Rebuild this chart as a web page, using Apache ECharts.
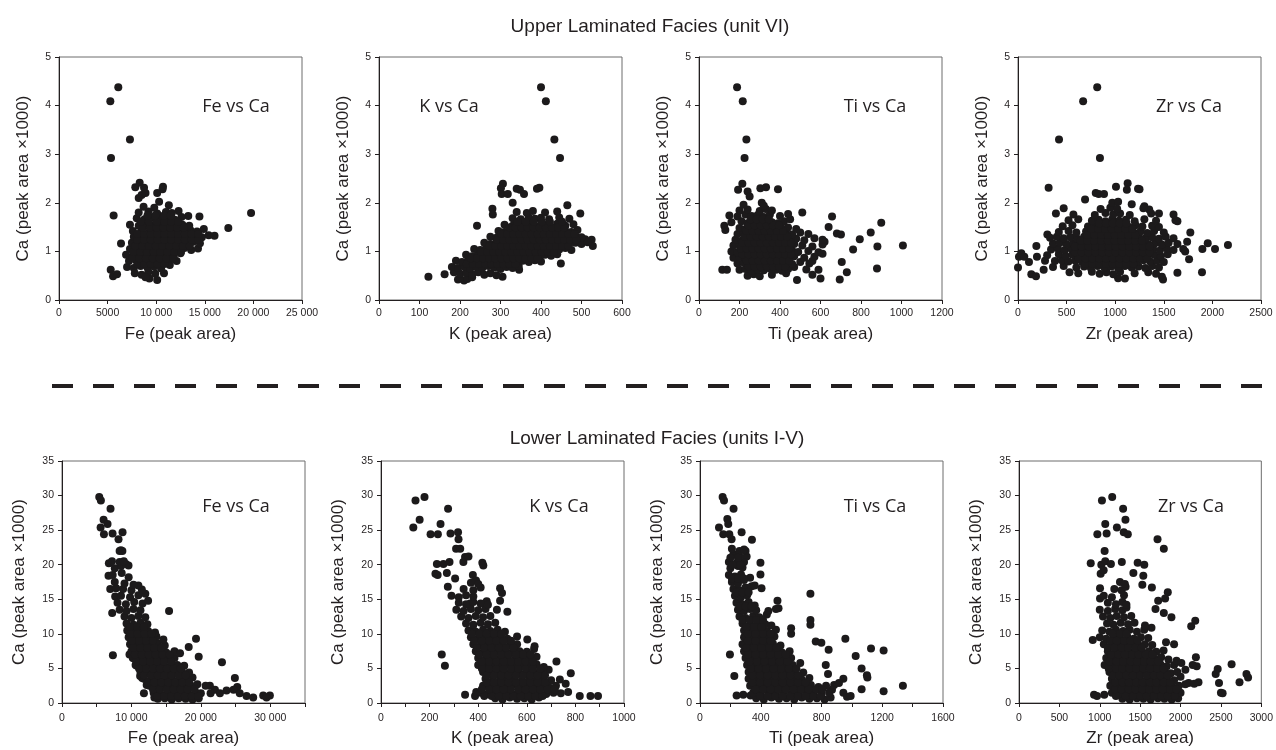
<!DOCTYPE html>
<html>
<head>
<meta charset="utf-8">
<title>Ca vs Fe, K, Ti, Zr</title>
<script src="https://cdn.jsdelivr.net/npm/echarts@6/dist/echarts.min.js"></script>
<style>
  html, body { margin: 0; padding: 0; background: #fff; }
  #chart { width: 1276px; height: 750px; }
</style>
</head>
<body>
<div id="chart"></div>
<script>
// Upper Laminated Facies (unit VI), [element peak area, Ca peak area x1000]
var upperFeCa = [
  [6100,4.38],[5280,4.09],[7300,3.30],[5350,2.92],[5620,1.74],[19760,1.79],[17420,1.48],[5320,0.62],[5560,0.49],[5970,0.53],[6380,1.16],
  [7850,2.32],[8300,2.41],[8750,2.31],[8900,2.20],[8500,2.16],[10700,2.33],[10650,2.28],[10100,2.20],[11300,1.95],[14450,1.72],[13300,1.73],[8200,2.10],
  [9300,0.44],[10100,0.41],[10800,0.55],
  [7800,0.55],[8500,0.52],[9200,0.58],[9900,0.54],[8900,0.47],
  [7000,0.68],[7700,0.66],[8400,0.70],[9100,0.67],[9800,0.69],[10500,0.65],[11400,0.72],
  [7200,0.80],[7900,0.83],[8600,0.79],[9300,0.82],[10000,0.78],[10700,0.81],[11400,0.85],[12100,0.80],
  [6900,0.93],[7600,0.90],[8300,0.94],[9000,0.91],[9700,0.95],[10400,0.92],[11100,0.94],[11800,0.90],[12500,0.96],
  [7300,1.05],[8000,1.03],[8700,1.07],[9400,1.04],[10100,1.06],[10800,1.02],[11500,1.08],[12200,1.05],[12900,1.07],[13600,1.03],[14300,1.06],
  [7500,1.18],[8200,1.16],[8900,1.20],[9600,1.17],[10300,1.19],[11000,1.15],[11700,1.21],[12400,1.18],[13100,1.16],[13800,1.20],[14500,1.17],
  [7700,1.30],[8400,1.28],[9100,1.32],[9800,1.29],[10500,1.31],[11200,1.27],[11900,1.33],[12600,1.30],[13300,1.28],[14000,1.31],[14700,1.29],[15400,1.33],[16000,1.32],
  [7600,1.42],[8500,1.44],[9300,1.40],[10000,1.43],[10700,1.41],[11400,1.45],[12100,1.42],[12800,1.40],[13500,1.44],[14200,1.41],[14900,1.46],
  [7300,1.55],[8200,1.53],[9000,1.57],[9800,1.54],[10600,1.56],[11300,1.52],[12000,1.58],[12700,1.55],[13400,1.53],
  [8000,1.68],[8800,1.66],[9700,1.70],[10500,1.67],[11200,1.69],[11900,1.65],[12600,1.71],
  [8200,1.80],[9200,1.82],[10100,1.78],[11000,1.81],[11600,1.79],[12300,1.83],
  [8700,1.92],[9800,1.90],[10300,2.02]
];
var upperFeCaCore = [
  [8050,0.74],[8750,0.74],[9450,0.74],[10150,0.74],[10850,0.74],
  [7550,0.86],[8250,0.86],[8950,0.86],[9650,0.86],[10350,0.86],[11050,0.86],[11750,0.86],
  [7650,0.99],[8350,0.99],[9050,0.99],[9750,0.99],[10450,0.99],[11150,0.99],[11850,0.99],[12550,0.99],
  [7850,1.11],[8550,1.11],[9250,1.11],[9950,1.11],[10650,1.11],[11350,1.11],[12050,1.11],[12750,1.11],[13450,1.11],
  [8050,1.24],[8750,1.24],[9450,1.24],[10150,1.24],[10850,1.24],[11550,1.24],[12250,1.24],[12950,1.24],[13650,1.24],[14350,1.24],
  [8050,1.36],[8750,1.36],[9450,1.36],[10150,1.36],[10850,1.36],[11550,1.36],[12250,1.36],[12950,1.36],[13650,1.36],[14350,1.36],
  [8650,1.49],[9350,1.49],[10050,1.49],[10750,1.49],[11450,1.49],[12150,1.49],[12850,1.49],
  [8450,1.61],[9250,1.61],[10050,1.61],[10850,1.61],[11550,1.61],[12250,1.61],
  [9100,1.74],[9900,1.74],[10800,1.74],[11500,1.74]
];
var upperKCa = [
  [400,4.38],[412,4.09],[433,3.30],[447,2.92],[122,0.48],[162,0.53],
  [306,2.39],[301,2.30],[303,2.18],[318,2.18],[340,2.29],[348,2.27],[358,2.18],[390,2.29],[396,2.31],
  [280,1.88],[281,1.76],[242,1.53],[330,2.00],[465,1.95],[497,1.78],[525,1.24],[528,1.11],[509,1.25],[449,0.75],[346,0.62],[305,0.48],[195,0.42],[210,0.40],
  [200,0.45],[218,0.43],[230,0.47],
  [185,0.57],[200,0.54],[215,0.56],[230,0.53],[245,0.57],[260,0.52],[275,0.55],[290,0.51],
  [180,0.68],[195,0.66],[210,0.69],[225,0.65],[240,0.68],[255,0.66],[270,0.70],[285,0.67],[300,0.64],[315,0.68],[330,0.66],[345,0.70],
  [190,0.81],[205,0.78],[220,0.82],[235,0.79],[250,0.81],[265,0.77],[280,0.83],[295,0.80],[310,0.78],[325,0.82],[340,0.79],[355,0.81],[370,0.78],[385,0.82],[400,0.79],
  [215,0.93],[230,0.90],[245,0.94],[260,0.91],[275,0.93],[290,0.90],[305,0.94],[320,0.92],[335,0.89],[350,0.93],[365,0.91],[380,0.94],[395,0.90],[410,0.93],[425,0.91],[440,0.94],
  [235,1.05],[250,1.03],[265,1.07],[280,1.04],[295,1.06],[310,1.02],[325,1.06],[340,1.04],[355,1.07],[370,1.03],[385,1.05],[400,1.07],[415,1.03],[430,1.06],[445,1.04],[460,1.07],[475,1.03],
  [260,1.18],[275,1.15],[290,1.19],[305,1.16],[320,1.18],[335,1.15],[350,1.19],[365,1.16],[380,1.18],[395,1.15],[410,1.19],[425,1.17],[440,1.15],[455,1.19],[470,1.16],[485,1.18],[500,1.15],[515,1.19],
  [275,1.30],[290,1.28],[305,1.32],[320,1.29],[335,1.31],[350,1.27],[365,1.32],[380,1.29],[395,1.31],[410,1.28],[425,1.32],[440,1.29],[455,1.31],[470,1.28],[485,1.32],[500,1.29],
  [295,1.42],[310,1.40],[325,1.44],[340,1.41],[355,1.43],[370,1.40],[385,1.44],[400,1.41],[415,1.43],[430,1.40],[445,1.44],[460,1.42],[475,1.40],[490,1.44],
  [310,1.55],[330,1.53],[345,1.57],[360,1.54],[375,1.56],[390,1.52],[405,1.56],[420,1.54],[440,1.57],[460,1.53],[480,1.56],
  [330,1.68],[350,1.66],[370,1.70],[385,1.67],[400,1.69],[420,1.66],[445,1.70],[470,1.67],
  [340,1.81],[365,1.79],[380,1.83],[410,1.80],[440,1.82]
];
var upperKCaCore = [
  [217,0.74],[232,0.74],[247,0.74],[262,0.74],[277,0.74],[292,0.74],[307,0.74],[322,0.74],[337,0.74],
  [227,0.86],[242,0.86],[257,0.86],[272,0.86],[287,0.86],[302,0.86],[317,0.86],[332,0.86],[347,0.86],[362,0.86],[377,0.86],[392,0.86],
  [252,0.99],[267,0.99],[282,0.99],[297,0.99],[312,0.99],[327,0.99],[342,0.99],[357,0.99],[372,0.99],[387,0.99],[402,0.99],[417,0.99],[432,0.99],
  [272,1.11],[287,1.11],[302,1.11],[317,1.11],[332,1.11],[347,1.11],[362,1.11],[377,1.11],[392,1.11],[407,1.11],[422,1.11],[437,1.11],[452,1.11],[467,1.11],
  [292,1.24],[307,1.24],[322,1.24],[337,1.24],[352,1.24],[367,1.24],[382,1.24],[397,1.24],[412,1.24],[427,1.24],[442,1.24],[457,1.24],[472,1.24],[487,1.24],
  [302,1.36],[317,1.36],[332,1.36],[347,1.36],[362,1.36],[377,1.36],[392,1.36],[407,1.36],[422,1.36],[437,1.36],[452,1.36],[467,1.36],[482,1.36],
  [322,1.49],[337,1.49],[352,1.49],[367,1.49],[382,1.49],[397,1.49],[412,1.49],[427,1.49],[442,1.49],[457,1.49],
  [342,1.61],[362,1.61],[382,1.61],[402,1.61],[422,1.61],[452,1.61]
];
var upperTiCa = [
  [188,4.38],[216,4.09],[234,3.30],[225,2.92],[214,2.39],[193,2.27],[240,2.23],[250,2.13],[303,2.30],[331,2.32],[390,2.28],
  [657,1.72],[900,1.59],[1007,1.12],[879,0.65],[881,1.10],[794,1.25],[848,1.39],[761,1.04],[705,0.78],[730,0.57],[695,0.42],[484,0.41],
  [115,0.62],[138,0.62],[125,1.53],[130,1.44],[681,1.37],[701,1.35],[640,1.50],[620,1.20],[610,0.95],[590,0.62],[560,0.52],[600,0.44],[545,0.75],
  [240,0.50],[270,0.53],[300,0.49],[360,0.52],[430,0.55],[470,0.68],
  [200,0.62],[230,0.64],[260,0.60],[290,0.63],[320,0.61],[350,0.65],[380,0.62],[410,0.60],[440,0.64],[530,0.63],
  [190,0.75],[220,0.77],[250,0.73],[280,0.76],[310,0.74],[340,0.78],[370,0.75],[400,0.73],[430,0.77],[460,0.74],[500,0.78],[560,0.80],
  [170,0.87],[200,0.89],[230,0.85],[260,0.88],[290,0.86],[320,0.90],[350,0.87],[380,0.85],[410,0.89],[440,0.86],[470,0.90],[520,0.87],[570,0.89],
  [160,1.00],[190,0.98],[220,1.02],[250,0.99],[280,1.01],[310,0.97],[340,1.02],[370,0.99],[400,1.01],[430,0.98],[460,1.02],[490,0.99],[540,1.01],[590,0.98],
  [170,1.12],[200,1.14],[230,1.10],[260,1.13],[290,1.11],[320,1.15],[350,1.12],[380,1.10],[410,1.14],[440,1.11],[470,1.15],[510,1.12],[560,1.10],[610,1.14],
  [180,1.24],[210,1.22],[240,1.26],[270,1.23],[300,1.25],[330,1.21],[360,1.26],[390,1.23],[420,1.25],[450,1.22],[480,1.26],[520,1.23],[570,1.27],[610,1.24],
  [190,1.36],[220,1.38],[250,1.34],[280,1.37],[310,1.35],[340,1.39],[370,1.36],[400,1.34],[430,1.38],[460,1.35],[500,1.39],[540,1.36],
  [200,1.48],[230,1.46],[260,1.50],[290,1.47],[320,1.49],[350,1.45],[380,1.50],[410,1.47],[440,1.49],[480,1.46],
  [160,1.60],[210,1.62],[240,1.58],[270,1.61],[300,1.59],[330,1.63],[360,1.60],[390,1.58],[420,1.62],[450,1.66],
  [150,1.74],[190,1.72],[230,1.76],[260,1.73],[290,1.75],[320,1.71],[350,1.76],[400,1.73],[440,1.77],[510,1.80],
  [200,1.84],[240,1.86],[300,1.83],[330,1.87],[360,1.84],
  [220,1.96],[310,2.00],[320,1.94]
];
var upperTiCaCore = [
  [245,0.69],[275,0.69],[305,0.69],[335,0.69],[365,0.69],[395,0.69],[425,0.69],
  [235,0.81],[265,0.81],[295,0.81],[325,0.81],[355,0.81],[385,0.81],[415,0.81],[445,0.81],
  [215,0.94],[245,0.94],[275,0.94],[305,0.94],[335,0.94],[365,0.94],[395,0.94],[425,0.94],[455,0.94],
  [205,1.06],[235,1.06],[265,1.06],[295,1.06],[325,1.06],[355,1.06],[385,1.06],[415,1.06],[445,1.06],
  [215,1.18],[245,1.18],[275,1.18],[305,1.18],[335,1.18],[365,1.18],[395,1.18],[425,1.18],[455,1.18],
  [225,1.30],[255,1.30],[285,1.30],[315,1.30],[345,1.30],[375,1.30],[405,1.30],[435,1.30],
  [235,1.42],[265,1.42],[295,1.42],[325,1.42],[355,1.42],[385,1.42],[415,1.42],
  [245,1.54],[275,1.54],[305,1.54],[335,1.54],[365,1.54],[395,1.54],
  [255,1.66],[285,1.66],[315,1.66],[345,1.66]
];
var upperZrCa = [
  [815,4.38],[670,4.09],[422,3.30],[843,2.92],[315,2.31],[690,2.07],[800,2.20],[830,2.18],[885,2.18],[1008,2.33],[1128,2.40],[1120,2.27],[1235,2.29],[1250,2.28],
  [1773,1.39],[1897,1.05],[1952,1.17],[2027,1.05],[2160,1.13],[1893,0.57],[1640,0.56],[1492,0.42],
  [0,0.67],[10,0.89],[34,0.96],[65,0.89],[113,0.78],[137,0.53],[185,0.49],[189,1.11],[195,0.89],[264,0.62],[278,0.81],[302,1.35],
  [1740,1.20],[1760,0.84],[1720,1.00],[1600,1.76],[1640,1.62],[1450,1.78],[1300,1.93],[1350,1.86],
  [1030,0.45],[1100,0.44],[1480,0.48],
  [530,0.57],[620,0.55],[760,0.58],[840,0.54],[910,0.57],[980,0.53],[1050,0.58],[1200,0.55],[1340,0.57],[1420,0.54],
  [360,0.68],[470,0.70],[600,0.67],[680,0.69],[750,0.66],[820,0.70],[890,0.67],[960,0.69],[1030,0.66],[1100,0.70],[1170,0.67],[1240,0.69],[1310,0.66],[1380,0.70],[1450,0.67],
  [380,0.80],[450,0.82],[520,0.79],[590,0.81],[660,0.78],[730,0.82],[800,0.79],[870,0.81],[940,0.78],[1010,0.82],[1080,0.79],[1150,0.81],[1220,0.78],[1290,0.82],[1360,0.79],[1430,0.81],[1500,0.78],
  [300,0.92],[420,0.94],[490,0.91],[560,0.93],[630,0.90],[700,0.94],[770,0.91],[840,0.93],[910,0.90],[980,0.94],[1050,0.91],[1120,0.93],[1190,0.90],[1260,0.94],[1330,0.91],[1400,0.93],[1470,0.90],[1540,0.94],
  [340,1.04],[410,1.06],[480,1.03],[550,1.05],[620,1.02],[690,1.06],[760,1.03],[830,1.05],[900,1.02],[970,1.06],[1040,1.03],[1110,1.05],[1180,1.02],[1250,1.06],[1320,1.03],[1390,1.05],[1460,1.02],[1530,1.06],[1600,1.03],[1700,1.05],
  [360,1.16],[430,1.18],[500,1.15],[570,1.17],[640,1.14],[710,1.18],[780,1.15],[850,1.17],[920,1.14],[990,1.18],[1060,1.15],[1130,1.17],[1200,1.14],[1270,1.18],[1340,1.15],[1410,1.17],[1480,1.14],[1550,1.18],[1640,1.15],
  [330,1.28],[400,1.30],[470,1.27],[540,1.29],[610,1.26],[680,1.30],[750,1.27],[820,1.29],[890,1.26],[960,1.30],[1030,1.27],[1100,1.29],[1170,1.26],[1240,1.30],[1310,1.27],[1380,1.29],[1450,1.26],[1520,1.30],[1600,1.27],
  [420,1.40],[520,1.42],[600,1.39],[700,1.41],[770,1.38],[840,1.42],[910,1.39],[980,1.41],[1050,1.38],[1120,1.42],[1190,1.39],[1260,1.41],[1330,1.38],[1400,1.42],[1500,1.39],
  [460,1.52],[560,1.54],[720,1.51],[790,1.53],[860,1.50],[930,1.54],[1000,1.51],[1070,1.53],[1140,1.50],[1210,1.54],[1280,1.51],[1380,1.53],[1450,1.50],
  [520,1.64],[620,1.66],[760,1.63],[830,1.65],[900,1.62],[970,1.66],[1040,1.63],[1110,1.65],[1200,1.62],[1300,1.66],[1420,1.63],[1620,1.64],
  [390,1.78],[570,1.76],[790,1.75],[900,1.79],[980,1.76],[1050,1.78],[1150,1.75],[1370,1.78],
  [470,1.89],[850,1.87],[950,1.90],[1020,1.88],[1290,1.89],
  [970,2.00],[1030,2.02],[1170,1.97]
];
var upperZrCaCore = [
  [695,0.74],[765,0.74],[835,0.74],[905,0.74],[975,0.74],[1045,0.74],[1115,0.74],[1185,0.74],
  [625,0.86],[695,0.86],[765,0.86],[835,0.86],[905,0.86],[975,0.86],[1045,0.86],[1115,0.86],[1185,0.86],[1255,0.86],[1325,0.86],
  [585,0.98],[655,0.98],[725,0.98],[795,0.98],[865,0.98],[935,0.98],[1005,0.98],[1075,0.98],[1145,0.98],[1215,0.98],[1285,0.98],[1355,0.98],
  [585,1.10],[655,1.10],[725,1.10],[795,1.10],[865,1.10],[935,1.10],[1005,1.10],[1075,1.10],[1145,1.10],[1215,1.10],[1285,1.10],[1355,1.10],
  [645,1.22],[715,1.22],[785,1.22],[855,1.22],[925,1.22],[995,1.22],[1065,1.22],[1135,1.22],[1205,1.22],[1275,1.22],
  [715,1.34],[785,1.34],[855,1.34],[925,1.34],[995,1.34],[1065,1.34],[1135,1.34],[1205,1.34],
  [755,1.46],[825,1.46],[895,1.46],[965,1.46],[1035,1.46],[1105,1.46],[1175,1.46],
  [835,1.58],[905,1.58],[975,1.58],[1045,1.58],[1115,1.58]
];

// Lower Laminated Facies (units I-V)
var lowerFeCa = [
  [5365,29.8],[5600,29.3],[5990,26.5],[5560,25.4],[6040,24.4],[6560,25.9],[6990,28.1],[7280,24.5],[8720,24.7],[8140,23.7],[8480,22.1],
  [6750,20.2],[6700,18.4],[6950,16.5],[7230,13.0],[7330,6.9],[7800,16.6],[7660,15.4],[9580,19.9],[9720,7.0],
  [15420,13.3],[19300,9.3],[18250,8.1],[19690,6.7],[23040,5.9],[24900,3.6],[25240,2.3],[21300,2.5],
  [26580,1.0],[27540,0.8],[28980,1.1],[29940,1.1],[29460,0.8],[23700,1.8],[24700,1.9],[25600,1.4],[22030,1.9],[22750,1.4],[20690,2.5],[21400,1.4],
  [11800,1.4],[13300,0.8],[12200,2.6],[11250,3.9],[11550,3.6],[10780,5.4],[10300,6.5],
  [13800,0.6],[14800,0.7],[15800,0.5],[16800,0.7],[17800,0.6],[18800,0.5],[19700,0.7],
  [13200,1.5],[14200,1.3],[15200,1.6],[16200,1.4],[17200,1.6],[18200,1.3],[19200,1.5],[20000,1.4],
  [12600,2.5],[13600,2.3],[14600,2.6],[15600,2.4],[16600,2.6],[17600,2.3],[18600,2.5],[19500,2.7],
  [11800,3.5],[12800,3.3],[13800,3.6],[14800,3.4],[15800,3.6],[16800,3.3],[17800,3.5],[18800,3.7],
  [11300,4.5],[12300,4.3],[13300,4.6],[14300,4.4],[15300,4.6],[16300,4.3],[17300,4.5],[18300,4.4],
  [10600,5.5],[11600,5.3],[12600,5.6],[13600,5.4],[14600,5.6],[15600,5.3],[16600,5.5],[17600,5.4],
  [10200,6.5],[11200,6.3],[12200,6.6],[13200,6.4],[14200,6.6],[15200,6.3],[16200,6.5],
  [10000,7.5],[11000,7.3],[12000,7.6],[13000,7.4],[14000,7.6],[15000,7.3],[16200,7.5],[17000,7.2],
  [9800,8.5],[10800,8.3],[11800,8.6],[12800,8.4],[13800,8.6],[14800,8.3],
  [9600,9.5],[10600,9.3],[11600,9.6],[12600,9.4],[13600,9.6],[14600,9.2],
  [9400,10.5],[10400,10.3],[11400,10.6],[12400,10.4],[13400,10.2],
  [9300,11.5],[10300,11.3],[11300,11.6],[12300,11.4],
  [9000,12.5],[10000,12.3],[11000,12.6],[12000,12.4],
  [8300,13.5],[9300,13.3],[10300,13.6],[11300,13.4],
  [8000,14.5],[9200,14.3],[10400,14.6],[11600,14.4],[12400,14.8],
  [8500,15.5],[9800,15.3],[11000,15.6],[12000,15.8],
  [8800,16.5],[10000,16.3],[11500,16.4],[11000,17.0],
  [7600,17.5],[9000,17.3],[10300,17.1],
  [7300,18.5],[8600,18.8],[9600,18.2],
  [7600,19.5],[8500,19.8],[9200,20.1],
  [7200,20.5],[8300,20.4],[8900,20.5],
  [8300,22.0],[8700,22.0]
];
var lowerFeCaCore = [
  [13700,1.0],[14700,1.0],[15700,1.0],[16700,1.0],[17700,1.0],[18700,1.0],[19600,1.0],
  [13100,2.0],[14100,2.0],[15100,2.0],[16100,2.0],[17100,2.0],[18100,2.0],[19100,2.0],
  [12300,3.0],[13300,3.0],[14300,3.0],[15300,3.0],[16300,3.0],[17300,3.0],[18300,3.0],
  [11800,4.0],[12800,4.0],[13800,4.0],[14800,4.0],[15800,4.0],[16800,4.0],[17800,4.0],
  [11100,5.0],[12100,5.0],[13100,5.0],[14100,5.0],[15100,5.0],[16100,5.0],[17100,5.0],
  [10700,6.0],[11700,6.0],[12700,6.0],[13700,6.0],[14700,6.0],[15700,6.0],
  [10500,7.0],[11500,7.0],[12500,7.0],[13500,7.0],[14500,7.0],[15500,7.0],
  [10300,8.0],[11300,8.0],[12300,8.0],[13300,8.0],[14300,8.0],
  [10100,9.0],[11100,9.0],[12100,9.0],[13100,9.0],
  [9900,10.0],[10900,10.0],[11900,10.0],[12900,10.0],
  [9800,11.0],[10800,11.0],[11800,11.0]
];
var lowerKCa = [
  [142,29.3],[179,29.8],[159,26.5],[133,25.4],[204,24.4],[234,24.4],[245,25.9],[276,28.1],[286,24.5],[317,24.7],[319,23.7],[309,22.3],[326,22.3],
  [230,20.1],[257,20.1],[282,20.4],[224,18.7],[233,18.5],[271,18.8],[275,16.8],[305,18.0],[339,20.4],[346,21.1],[360,21.2],[417,20.3],[421,19.9],
  [378,18.5],[391,17.7],[490,16.6],[498,15.9],[490,14.8],[520,13.2],[477,13.5],[435,14.7],[379,10.6],[250,7.0],[263,5.4],[367,14.4],
  [602,9.2],[632,8.2],[722,6.0],[781,4.3],[736,3.4],[818,1.0],[862,1.0],[893,1.0],[387,1.0],[346,1.2],[392,1.6],
  [470,0.7],[500,0.5],[530,0.8],[560,0.6],[590,0.7],[620,0.5],[650,0.8],
  [410,1.5],[440,1.3],[470,1.6],[500,1.4],[530,1.6],[560,1.3],[590,1.5],[620,1.4],[650,1.6],[680,1.3],[710,1.5],[740,1.4],[770,1.6],
  [420,2.5],[450,2.3],[480,2.6],[510,2.4],[540,2.6],[570,2.3],[600,2.5],[630,2.4],[660,2.6],[690,2.3],[720,2.5],[760,2.8],
  [430,3.5],[460,3.3],[490,3.6],[520,3.4],[550,3.6],[580,3.3],[610,3.5],[640,3.4],[670,3.6],[700,3.3],
  [420,4.5],[450,4.3],[480,4.6],[510,4.4],[540,4.6],[570,4.3],[600,4.5],[630,4.4],[660,4.6],[690,4.8],
  [400,5.5],[430,5.3],[460,5.6],[490,5.4],[520,5.6],[550,5.3],[580,5.5],[610,5.4],[640,5.6],[670,5.2],
  [400,6.5],[430,6.3],[460,6.6],[490,6.4],[520,6.6],[550,6.3],[580,6.5],[610,6.4],[640,6.7],
  [390,7.5],[420,7.3],[450,7.6],[480,7.4],[510,7.6],[540,7.3],[570,7.5],[600,7.4],[630,7.8],
  [380,8.5],[410,8.3],[440,8.6],[470,8.4],[500,8.6],[530,8.3],[560,8.5],
  [370,9.5],[400,9.3],[430,9.6],[460,9.4],[490,9.6],[520,9.3],[560,9.6],
  [360,10.5],[390,10.3],[420,10.6],[450,10.4],[480,10.6],[510,10.3],
  [350,11.5],[380,11.3],[410,11.6],[440,11.4],[470,11.6],
  [330,12.5],[360,12.3],[390,12.6],[420,12.4],[450,12.6],
  [310,13.5],[340,13.3],[370,13.6],[400,13.4],[430,13.6],
  [320,14.5],[350,14.3],[380,14.6],[410,14.4],[440,14.2],
  [290,15.5],[320,15.3],[350,15.6],[380,15.4],
  [340,16.5],[380,16.3],[410,16.7],
  [370,17.4],[400,17.2]
];
var lowerKCaCore = [
  [425,1.0],[455,1.0],[485,1.0],[515,1.0],[545,1.0],[575,1.0],[605,1.0],[635,1.0],[665,1.0],
  [415,2.0],[445,2.0],[475,2.0],[505,2.0],[535,2.0],[565,2.0],[595,2.0],[625,2.0],[655,2.0],[685,2.0],[715,2.0],
  [435,3.0],[465,3.0],[495,3.0],[525,3.0],[555,3.0],[585,3.0],[615,3.0],[645,3.0],[675,3.0],
  [435,4.0],[465,4.0],[495,4.0],[525,4.0],[555,4.0],[585,4.0],[615,4.0],[645,4.0],[675,4.0],
  [415,5.0],[445,5.0],[475,5.0],[505,5.0],[535,5.0],[565,5.0],[595,5.0],[625,5.0],[655,5.0],
  [415,6.0],[445,6.0],[475,6.0],[505,6.0],[535,6.0],[565,6.0],[595,6.0],[625,6.0],
  [405,7.0],[435,7.0],[465,7.0],[495,7.0],[525,7.0],[555,7.0],[585,7.0],[615,7.0],
  [395,8.0],[425,8.0],[455,8.0],[485,8.0],[515,8.0],[545,8.0],
  [385,9.0],[415,9.0],[445,9.0],[475,9.0],[505,9.0],[535,9.0],
  [375,10.0],[405,10.0],[435,10.0],[465,10.0],[495,10.0]
];
var lowerTiCa = [
  [149,29.8],[158,29.3],[125,25.4],[180,26.6],[186,25.9],[153,24.4],[193,24.4],[221,28.1],[274,24.7],[208,23.7],[307,21.2],[342,23.6],
  [197,7.0],[226,3.9],[241,1.1],[285,1.2],[333,1.1],
  [727,15.8],[727,12.0],[727,11.3],[762,8.9],[799,8.7],[847,7.7],[957,9.3],[1025,6.8],[1126,7.9],[1209,7.6],[1064,5.0],[1099,4.0],[1102,3.7],
  [1064,2.0],[1209,1.7],[1336,2.5],[944,3.5],[944,1.5],[968,0.9],[992,1.0],[828,5.5],[843,4.2],[883,2.6],[869,1.9],[915,2.9],
  [510,14.8],[517,13.7],[398,20.3],[398,18.6],[405,16.6],
  [370,0.7],[420,0.5],[470,0.8],[520,0.6],[570,0.7],[620,0.5],[670,0.8],[720,0.6],[770,0.7],[820,0.5],[860,0.8],
  [350,1.5],[400,1.3],[450,1.6],[500,1.4],[550,1.6],[600,1.3],[650,1.5],[700,1.4],[750,1.6],[800,1.3],[850,1.5],
  [330,2.5],[380,2.3],[430,2.6],[480,2.4],[530,2.6],[580,2.3],[630,2.5],[680,2.4],[730,2.6],[780,2.3],[830,2.5],
  [320,3.5],[370,3.3],[420,3.6],[470,3.4],[520,3.6],[570,3.3],[620,3.5],[670,3.4],[720,3.6],
  [320,4.5],[370,4.3],[420,4.6],[470,4.4],[520,4.6],[570,4.3],[620,4.5],[680,4.4],
  [310,5.5],[360,5.3],[410,5.6],[460,5.4],[510,5.6],[560,5.3],[610,5.5],[660,5.8],
  [300,6.5],[350,6.3],[400,6.6],[450,6.4],[500,6.6],[550,6.3],[600,6.5],
  [290,7.5],[340,7.3],[390,7.6],[440,7.4],[490,7.6],[540,7.3],[590,7.5],
  [280,8.5],[330,8.3],[380,8.6],[430,8.4],[480,8.6],[530,8.3],
  [290,9.5],[340,9.3],[390,9.6],[440,9.4],[490,9.6],[600,10.0],
  [290,10.5],[340,10.3],[390,10.6],[440,10.4],[500,10.6],[600,10.8],
  [280,11.5],[330,11.3],[380,11.6],[430,11.4],[470,11.2],
  [260,12.5],[300,12.3],[350,12.6],[390,12.4],[440,12.8],
  [250,13.5],[290,13.3],[330,13.6],[370,13.4],[450,13.3],[500,13.6],
  [240,14.5],[280,14.3],[320,14.6],[360,14.1],
  [230,15.5],[270,15.3],[310,15.6],
  [220,16.5],[260,16.3],[300,16.7],[340,16.9],[360,17.0],
  [210,17.5],[250,17.3],[290,17.8],
  [190,18.5],[230,18.3],[270,18.6],[330,18.1],
  [200,19.5],[250,19.8],[280,19.6],
  [190,20.4],[240,20.2],[290,20.4],
  [220,21.5],[260,21.2],[300,22.0],
  [210,22.3],[260,22.0],[290,22.2]
];
var lowerTiCaCore = [
  [395,1.0],[445,1.0],[495,1.0],[545,1.0],[595,1.0],[645,1.0],[695,1.0],[745,1.0],[795,1.0],
  [365,2.0],[415,2.0],[465,2.0],[515,2.0],[565,2.0],[615,2.0],[665,2.0],[715,2.0],[765,2.0],[805,2.0],
  [345,3.0],[395,3.0],[445,3.0],[495,3.0],[545,3.0],[595,3.0],[645,3.0],[695,3.0],
  [345,4.0],[395,4.0],[445,4.0],[495,4.0],[545,4.0],[595,4.0],[645,4.0],
  [335,5.0],[385,5.0],[435,5.0],[485,5.0],[535,5.0],[585,5.0],[635,5.0],
  [325,6.0],[375,6.0],[425,6.0],[475,6.0],[525,6.0],[575,6.0],
  [315,7.0],[365,7.0],[415,7.0],[465,7.0],[515,7.0],[565,7.0],
  [305,8.0],[355,8.0],[405,8.0],[455,8.0],[505,8.0],
  [315,9.0],[365,9.0],[415,9.0],[465,9.0],
  [315,10.0],[365,10.0],[415,10.0],[465,10.0],
  [305,11.0],[355,11.0],[405,11.0],
  [280,12.0],[325,12.0],[370,12.0],[415,12.0],
  [260,14.0],[300,14.0],[340,14.0],
  [240,16.0],[280,16.0],[320,16.0],
  [210,18.0],[250,18.0],[290,18.0],
  [215,20.0],[265,20.0],
  [200,21.0],[250,21.0]
];
var lowerZrCa = [
  [1027,29.3],[1154,29.8],[1289,28.1],[1318,26.5],[1068,25.9],[1212,25.4],[970,24.4],[1085,24.5],[1297,24.7],[1347,24.4],[1715,23.7],[1793,22.3],[1060,22.0],
  [888,20.2],[1019,20.0],[1068,20.5],[1138,20.1],[1469,20.3],[1551,20.0],[1273,20.4],[1011,18.7],[1048,19.2],[1416,18.8],[1539,18.4],[1527,17.1],
  [1645,16.7],[1842,16.0],[1809,15.1],[1723,14.8],[1690,13.6],[1793,13.0],[1887,12.4],[2182,11.9],[2132,11.1],[1003,16.6],[1003,15.1],[913,9.1],
  [929,1.2],[966,1.0],[1056,1.2],[2632,5.6],[2730,3.0],[2816,4.2],[2836,3.7],[2500,1.5],[2521,1.4],[2476,2.9],[2460,4.9],[2435,4.2],[2190,6.6],[2100,2.9],[2222,3.0],
  [1280,0.6],[1370,0.5],[1460,0.7],[1540,0.6],[1630,0.5],[1720,0.7],[1800,0.6],[1890,0.5],[1970,0.7],
  [1150,1.5],[1230,1.3],[1320,1.6],[1400,1.4],[1490,1.6],[1570,1.3],[1660,1.5],[1740,1.4],[1830,1.6],[1910,1.3],[2000,1.5],
  [1130,2.5],[1220,2.3],[1300,2.6],[1390,2.4],[1470,2.6],[1560,2.3],[1640,2.5],[1730,2.4],[1810,2.6],[1900,2.3],[1980,2.5],[2060,2.7],[2170,2.8],
  [1150,3.5],[1240,3.3],[1320,3.6],[1410,3.4],[1490,3.6],[1580,3.3],[1660,3.5],[1750,3.4],[1830,3.6],[1920,3.3],[2000,3.8],
  [1120,4.5],[1200,4.3],[1290,4.6],[1370,4.4],[1460,4.6],[1540,4.3],[1630,4.5],[1710,4.4],[1800,4.6],[1880,4.3],[1960,4.5],[2060,4.8],[2200,5.3],
  [1060,5.5],[1150,5.3],[1240,5.6],[1320,5.4],[1410,5.6],[1490,5.3],[1580,5.5],[1660,5.4],[1750,5.6],[1830,5.3],[1920,5.5],[2010,5.8],[2150,5.5],
  [1080,6.5],[1170,6.3],[1250,6.6],[1340,6.4],[1420,6.6],[1510,6.3],[1590,6.5],[1680,6.4],[1760,6.6],[1850,6.3],[1950,6.1],
  [1100,7.5],[1190,7.3],[1270,7.6],[1360,7.4],[1440,7.6],[1530,7.3],[1610,7.5],[1700,7.4],[1790,7.6],
  [1050,8.5],[1140,8.3],[1220,8.6],[1310,8.4],[1390,8.6],[1480,8.3],[1560,8.5],[1650,8.4],[1820,8.8],[1920,8.5],
  [1000,9.5],[1080,9.3],[1170,9.6],[1250,9.4],[1340,9.6],[1420,9.3],[1510,9.5],[1600,9.4],
  [1030,10.5],[1120,10.3],[1200,10.6],[1290,10.4],[1370,10.6],[1460,10.3],[1550,10.6],[1640,10.9],
  [1090,11.5],[1170,11.3],[1260,11.6],[1350,11.4],[1430,11.6],[1560,11.2],
  [1040,12.5],[1130,12.3],[1210,12.6],[1300,12.4],[1390,12.6],
  [1000,13.5],[1100,13.3],[1190,13.6],[1280,13.4],[1330,13.8],
  [1100,14.5],[1200,14.3],[1280,14.6],[1330,14.2],
  [1050,15.5],[1150,15.3],[1300,15.6],
  [1180,16.5],[1270,16.3],[1320,16.8],
  [1250,17.5],[1310,17.2]
];
var lowerZrCaCore = [
  [1200,1.0],[1320,1.0],[1410,1.0],[1500,1.0],[1580,1.0],[1670,1.0],[1760,1.0],[1840,1.0],[1930,1.0],
  [1190,2.0],[1270,2.0],[1360,2.0],[1440,2.0],[1530,2.0],[1610,2.0],[1700,2.0],[1780,2.0],[1870,2.0],[1950,2.0],
  [1190,3.0],[1280,3.0],[1360,3.0],[1450,3.0],[1530,3.0],[1620,3.0],[1700,3.0],[1790,3.0],[1870,3.0],
  [1160,4.0],[1240,4.0],[1330,4.0],[1410,4.0],[1500,4.0],[1580,4.0],[1670,4.0],[1750,4.0],[1840,4.0],
  [1110,5.0],[1200,5.0],[1280,5.0],[1370,5.0],[1450,5.0],[1540,5.0],[1620,5.0],[1710,5.0],[1790,5.0],
  [1120,6.0],[1210,6.0],[1290,6.0],[1380,6.0],[1460,6.0],[1550,6.0],[1630,6.0],[1720,6.0],
  [1140,7.0],[1230,7.0],[1310,7.0],[1400,7.0],[1480,7.0],[1570,7.0],[1650,7.0],
  [1100,8.0],[1180,8.0],[1270,8.0],[1350,8.0],[1440,8.0],[1520,8.0],
  [1130,9.0],[1210,9.0],[1300,9.0],[1380,9.0],[1470,9.0],
  [1160,10.0],[1250,10.0],[1330,10.0]
];

var facieTitles = ['Upper Laminated Facies (unit VI)', 'Lower Laminated Facies (units I-V)'];
var yAxisName = 'Ca (peak area \u00d71000)';

// "10 000" style for five-digit values, plain digits otherwise
function spaced(v) {
  return v >= 10000 ? String(v).replace(/\B(?=(\d{3})+(?!\d))/g, ' ') : String(v);
}
function plain(v) { return String(v); }

var panels = [
  // upper row
  { data: upperFeCa.concat(upperFeCaCore), el: 'Fe', left: 59, top: 57, w: 243, h: 243, xmax: 25000, xstep: 5000, ymax: 5, ystep: 1, fmt: spaced, tx: 236, ty: 107 },
  { data: upperKCa.concat(upperKCaCore), el: 'K', left: 379, top: 57, w: 243, h: 243, xmax: 600, xstep: 100, ymax: 5, ystep: 1, fmt: plain, tx: 449, ty: 107 },
  { data: upperTiCa.concat(upperTiCaCore), el: 'Ti', left: 699, top: 57, w: 243, h: 243, xmax: 1200, xstep: 200, ymax: 5, ystep: 1, fmt: plain, tx: 875, ty: 107 },
  { data: upperZrCa.concat(upperZrCaCore), el: 'Zr', left: 1018, top: 57, w: 243, h: 243, xmax: 2500, xstep: 500, ymax: 5, ystep: 1, fmt: plain, tx: 1189, ty: 107 },
  // lower row
  { data: lowerFeCa.concat(lowerFeCaCore), el: 'Fe', left: 62, top: 461, w: 243, h: 242, xmax: 35000, xstep: 5000, ymax: 35, ystep: 5, fmt: function (v) { return (v % 10000 === 0 && v < 35000) ? spaced(v) : ''; }, tx: 236, ty: 507 },
  { data: lowerKCa.concat(lowerKCaCore), el: 'K', left: 381, top: 461, w: 243, h: 242, xmax: 1000, xstep: 100, ymax: 35, ystep: 5, fmt: function (v) { return v % 200 === 0 ? String(v) : ''; }, tx: 559, ty: 507 },
  { data: lowerTiCa.concat(lowerTiCaCore), el: 'Ti', left: 700, top: 461, w: 243, h: 242, xmax: 1600, xstep: 200, ymax: 35, ystep: 5, fmt: function (v) { return v % 400 === 0 ? String(v) : ''; }, tx: 875, ty: 507 },
  { data: lowerZrCa.concat(lowerZrCaCore), el: 'Zr', left: 1019, top: 461, w: 244, h: 242, xmax: 3000, xstep: 500, ymax: 35, ystep: 5, fmt: plain, tx: 1191, ty: 507 }
];

var axisFont = 'Liberation Sans, Arial, sans-serif';
var ink = '#231f20';

var grids = [], xAxes = [], yAxes = [], series = [], graphics = [];

panels.forEach(function (p, i) {
  var lower = i >= 4;
  grids.push({
    left: p.left, top: p.top, width: p.w, height: p.h,
    show: true, borderColor: '#6d6d6d', borderWidth: 1, backgroundColor: 'transparent'
  });
  xAxes.push({
    gridIndex: i, type: 'value', min: 0, max: p.xmax, interval: p.xstep,
    name: p.el + ' (peak area)', nameLocation: 'middle', nameGap: lower ? 27 : 26,
    nameTextStyle: { fontFamily: axisFont, fontSize: 17, color: ink },
    axisLine: { show: true, lineStyle: { color: ink, width: 1 } },
    axisTick: { show: true, length: 4, lineStyle: { color: ink } },
    axisLabel: { margin: lower ? 10 : 8, fontFamily: axisFont, fontSize: 10.5, color: ink, formatter: p.fmt, showMaxLabel: true, hideOverlap: false },
    splitLine: { show: false }
  });
  yAxes.push({
    gridIndex: i, type: 'value', min: 0, max: p.ymax, interval: p.ystep,
    name: yAxisName, nameLocation: 'middle', nameGap: lower ? 34 : 27, nameRotate: 90,
    nameTextStyle: { fontFamily: axisFont, fontSize: 17, color: ink },
    axisLine: { show: true, lineStyle: { color: ink, width: 1 } },
    axisTick: { show: true, length: 4, lineStyle: { color: ink } },
    axisLabel: { margin: 8, fontFamily: axisFont, fontSize: 10.5, color: ink },
    splitLine: { show: false }
  });
  series.push({
    type: 'scatter', xAxisIndex: i, yAxisIndex: i,
    data: p.data, symbol: 'circle', symbolSize: 8,
    itemStyle: { color: '#1c1a1b', opacity: 1 },
    silent: true, animation: false
  });
  graphics.push({
    type: 'text', z: 10, x: p.tx, y: p.ty,
    style: {
      text: p.el + ' vs Ca', fill: ink,
      font: '18px "Open Sans", sans-serif',
      textAlign: 'center', textVerticalAlign: 'middle'
    }
  });
});

// dashed separator between the two facies
graphics.push({
  type: 'line', z: 5,
  shape: { x1: 52, y1: 386, x2: 1267, y2: 386 },
  style: { stroke: ink, lineWidth: 4, lineDash: [21, 20], lineCap: 'butt' }
});

var chart = echarts.init(document.getElementById('chart'), null, { renderer: 'canvas' });
chart.setOption({
  animation: false,
  backgroundColor: '#ffffff',
  title: [
    { text: facieTitles[0], left: 645, top: 12, textAlign: 'center',
      textStyle: { fontFamily: axisFont, fontSize: 19, fontWeight: 'normal', color: ink } },
    { text: facieTitles[1], left: 652, top: 424, textAlign: 'center',
      textStyle: { fontFamily: axisFont, fontSize: 19, fontWeight: 'normal', color: ink } }
  ],
  grid: grids,
  xAxis: xAxes,
  yAxis: yAxes,
  series: series,
  graphic: graphics
});
</script>
</body>
</html>
